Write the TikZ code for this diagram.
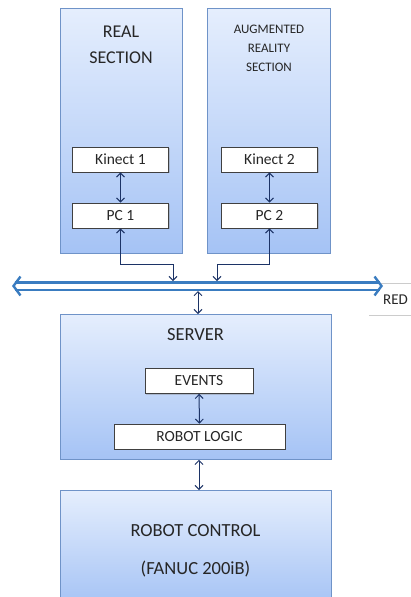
\documentclass[tikz,border=0pt]{standalone}
\usepackage{fontspec}
\setmainfont{Carlito}
\usetikzlibrary{arrows.meta,positioning,shadows}

\definecolor{paneltop}{HTML}{E5EEFD}
\definecolor{panelbot}{HTML}{A5C3F5}
\definecolor{panelline}{HTML}{6F93C8}
\definecolor{linkcol}{HTML}{1C3366}
\definecolor{buscol}{HTML}{3A7CC0}
\definecolor{txtcol}{HTML}{262626}

\tikzset{
  panel/.style={draw=panelline, line width=0.8pt, top color=paneltop, bottom color=panelbot,
    anchor=north west, inner sep=0pt},
  unit/.style={draw=black!75, line width=0.7pt, fill=white, inner sep=0pt, text=txtcol,
    font=\fontsize{15.5}{17}\selectfont,
    drop shadow={shadow xshift=1.2pt, shadow yshift=-1.2pt, opacity=0.35}},
  title/.style={text=txtcol, align=center, inner sep=0pt},
  link/.style={draw=linkcol, line width=1pt,
    {Straight Barb[length=4pt,width=8pt]}-{Straight Barb[length=4pt,width=8pt]}},
  bus/.style={draw=buscol, line width=2.4pt, double=white, double distance=5pt,
    {Straight Barb[length=7pt,width=19pt,line width=2.4pt]}-{Straight Barb[length=7pt,width=19pt,line width=2.4pt]}}
}

\begin{document}
\begin{tikzpicture}[x=1pt,y=-1pt]
  \useasboundingbox (0,0) rectangle (410,597);

  % The two sections
  \node[panel, minimum width=122pt, minimum height=245pt] (real) at (60,8) {};
  \node[panel, minimum width=123pt, minimum height=245pt] (augm) at (207,8) {};
  \node[title, font=\fontsize{18}{26}\selectfont] (realtitle) at (121,45) {REAL\\SECTION};
  \node[title, font=\fontsize{13}{19}\selectfont] (augmtitle) at (269,48) {AUGMENTED\\REALITY\\SECTION};

  % Kinects and PCs
  \foreach \n/\x in {1/120.5, 2/269.5} {
    \node[unit, minimum width=96pt, minimum height=25pt] (kinect\n) at (\x,159.5) {Kinect \n};
    \node[unit, minimum width=96pt, minimum height=25pt] (pc\n) at (\x,215.5) {PC \n};
    \draw[link] (kinect\n) -- (pc\n);
  }

  % Network label
  \node[anchor=west, inner sep=0pt, text=txtcol, font=\fontsize{15}{17}\selectfont] (red) at (383,300) {RED};
  \draw[black!20, line width=1pt] (372,283) -- (412,283);
  \draw[black!20, line width=1pt] (369,315) -- (412,315);

  % The bus
  \coordinate (busL) at (12,286);
  \coordinate (busR) at (383,286);
  \draw[bus] (busL) -- (busR);

  \coordinate (bus1) at (173,281);
  \coordinate (bus2) at (217,281);
  \draw[link] (pc1.south) -- ++(0,36) -| (bus1);
  \draw[link] (pc2.south) -- ++(0,36) -| (bus2);

  % Server
  \node[panel, minimum width=271pt, minimum height=145pt] (server) at (60,314) {};
  \node[title, font=\fontsize{18.5}{20}\selectfont] (servertitle) at (195.5,335) {SERVER};
  \node[unit, minimum width=108pt, minimum height=25pt] (events) at (199,381) {EVENTS};
  \node[unit, minimum width=171pt, minimum height=25pt] (logic) at (199.5,436.5) {ROBOT LOGIC};
  \draw[link] (events) -- (logic);

  \coordinate (busS) at (198,291);
  \draw[link] (busS) -- (busS |- server.north);

  % Robot control
  \node[panel, minimum width=271pt, minimum height=115pt] (control) at (60,490) {};
  \node[title, font=\fontsize{18.5}{38}\selectfont] (controltitle) at (195.5,551) {ROBOT CONTROL\\(FANUC 200iB)};
  \draw[link] (server.south -| 199,0) -- (control.north -| 199,0);
\end{tikzpicture}
\end{document}
